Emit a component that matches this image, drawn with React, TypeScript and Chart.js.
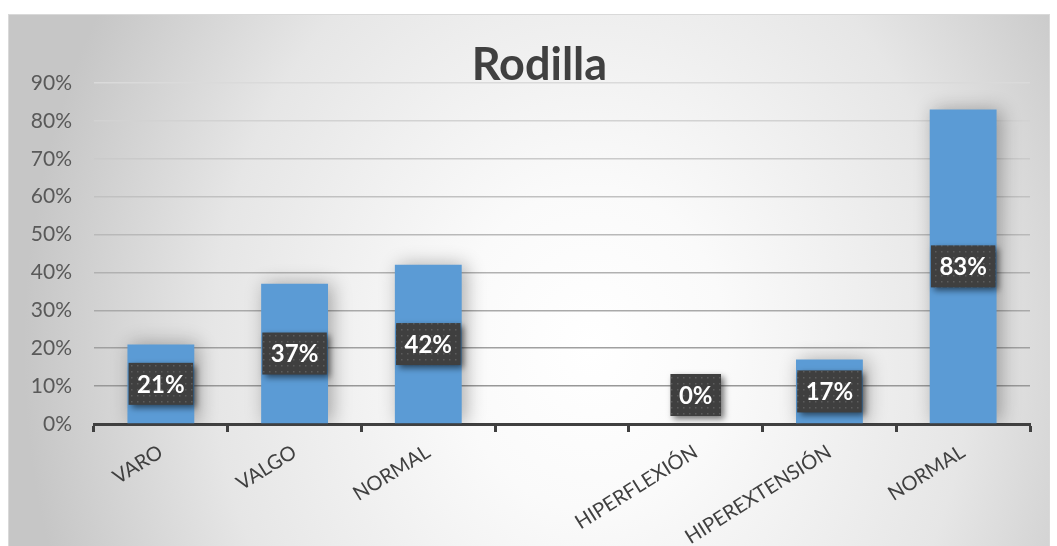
import React, { useEffect, useRef } from "react";
import { Chart, registerables } from "chart.js";

Chart.register(...registerables);

const categories = ["VARO", "VALGO", "NORMAL", "", "HIPERFLEXIÓN", "HIPEREXTENSIÓN", "NORMAL"];
const percentages: (number | null)[] = [21, 37, 42, null, 0, 17, 83];
const yTicks = [0, 10, 20, 30, 40, 50, 60, 70, 80, 90];
const chartTitle = "Rodilla";

const FONT = "Lato, 'Open Sans', sans-serif";

function makeDotPattern(ctx: CanvasRenderingContext2D) {
  const tile = document.createElement("canvas");
  tile.width = 6;
  tile.height = 6;
  const t = tile.getContext("2d")!;
  t.fillStyle = "#3f3f3f";
  t.fillRect(0, 0, 6, 6);
  t.fillStyle = "#5c5c5c";
  t.fillRect(2, 2, 1.5, 1.5);
  return ctx.createPattern(tile, "repeat");
}

// Soft shadow under the bars, then the dark value boxes on top of them
const barDecorations = {
  id: "barDecorations",
  beforeDatasetsDraw(chart: any) {
    const ctx = chart.ctx;
    ctx.save();
    ctx.shadowColor = "rgba(0,0,0,0.32)";
    ctx.shadowBlur = 18;
    ctx.shadowOffsetX = 4;
    ctx.shadowOffsetY = 0;
  },
  afterDatasetsDraw(chart: any) {
    const ctx: CanvasRenderingContext2D = chart.ctx;
    ctx.restore();
    const meta = chart.getDatasetMeta(0);
    const pattern = makeDotPattern(ctx);
    meta.data.forEach((bar: any, i: number) => {
      const v = percentages[i];
      if (v === null || v === undefined) return;
      const text = `${v}%`;
      const { x, y, base } = bar.getProps(["x", "y", "base"], true);
      ctx.save();
      ctx.font = `bold 24px ${FONT}`;
      const tw = ctx.measureText(text).width;
      const w = tw + 17;
      const h = 42;
      let cy = (y + base) / 2;
      cy = Math.min(cy, base - 8 - h / 2);
      ctx.shadowColor = "rgba(0,0,0,0.55)";
      ctx.shadowBlur = 6;
      ctx.shadowOffsetX = 3;
      ctx.shadowOffsetY = 3;
      ctx.fillStyle = pattern || "#404040";
      ctx.fillRect(x - w / 2, cy - h / 2, w, h);
      ctx.shadowColor = "transparent";
      ctx.fillStyle = "#ffffff";
      ctx.textAlign = "center";
      ctx.textBaseline = "middle";
      ctx.fillText(text, x, cy + 1);
      ctx.restore();
    });
  },
};

const titleDraw = {
  id: "titleDraw",
  afterDraw(chart: any) {
    const ctx: CanvasRenderingContext2D = chart.ctx;
    ctx.save();
    ctx.font = `bold 45px ${FONT}`;
    ctx.fillStyle = "#404040";
    ctx.textAlign = "center";
    ctx.textBaseline = "alphabetic";
    ctx.fillText(chartTitle, chart.width * 0.51, 65);
    ctx.restore();
  },
};

function gridShade(value: number) {
  // gridlines fade lighter towards the top of the plot
  const t = value / 90;
  const c = Math.round(0x90 + (0xda - 0x90) * t);
  return `rgb(${c},${c},${c})`;
}

export default function App() {
  const canvasRef = useRef<HTMLCanvasElement | null>(null);

  useEffect(() => {
    if (!canvasRef.current) return;
    const chart = new Chart(canvasRef.current, {
      type: "bar",
      data: {
        labels: categories,
        datasets: [
          {
            data: percentages,
            backgroundColor: "#5b9bd5",
            borderWidth: 0,
            categoryPercentage: 1,
            barPercentage: 0.5,
          },
        ],
      },
      plugins: [barDecorations, titleDraw],
      options: {
        responsive: true,
        maintainAspectRatio: false,
        animation: false,
        layout: { padding: { top: 68, right: 19, left: 0, bottom: 0 } },
        plugins: {
          legend: { display: false },
          title: { display: false },
          tooltip: { enabled: false },
        },
        scales: {
          x: {
            offset: true,
            grid: {
              offset: true,
              drawOnChartArea: false,
              drawTicks: true,
              tickLength: 8,
              tickWidth: 3,
              tickColor: "#404040",
            },
            border: { display: true, color: "#404040", width: 3 },
            ticks: {
              autoSkip: false,
              minRotation: 32,
              maxRotation: 32,
              padding: 8,
              color: "#404040",
              font: { family: FONT, size: 20 },
            },
            afterFit(scale: any) {
              scale.height = 129;
            },
          },
          y: {
            min: 0,
            max: 90,
            afterBuildTicks(scale: any) {
              scale.ticks = yTicks.map((v) => ({ value: v }));
            },
            grid: {
              drawTicks: false,
              lineWidth: 1.5,
              color: (ctx: any) => gridShade(ctx.tick ? ctx.tick.value : 0),
            },
            border: { display: false },
            ticks: {
              padding: 22,
              color: "#595959",
              font: { family: FONT, size: 21 },
              callback: (v: any) => `${v}%`,
            },
            afterFit(scale: any) {
              scale.width = 85;
            },
          },
        },
      },
    });
    return () => chart.destroy();
  }, []);

  return (
    <div
      style={{
        position: "fixed",
        left: 8,
        top: 14,
        width: 1042,
        height: 540,
        boxSizing: "border-box",
        border: "1px solid #d9d9d9",
        background:
          "radial-gradient(ellipse 52% 120% at 56% 62%, #ffffff 0%, #fafafa 25%, #e6e6e6 70%, #c6c6c6 105%)",
      }}
    >
      <div style={{ position: "relative", width: "100%", height: "100%" }}>
        <canvas ref={canvasRef} />
      </div>
    </div>
  );
}
